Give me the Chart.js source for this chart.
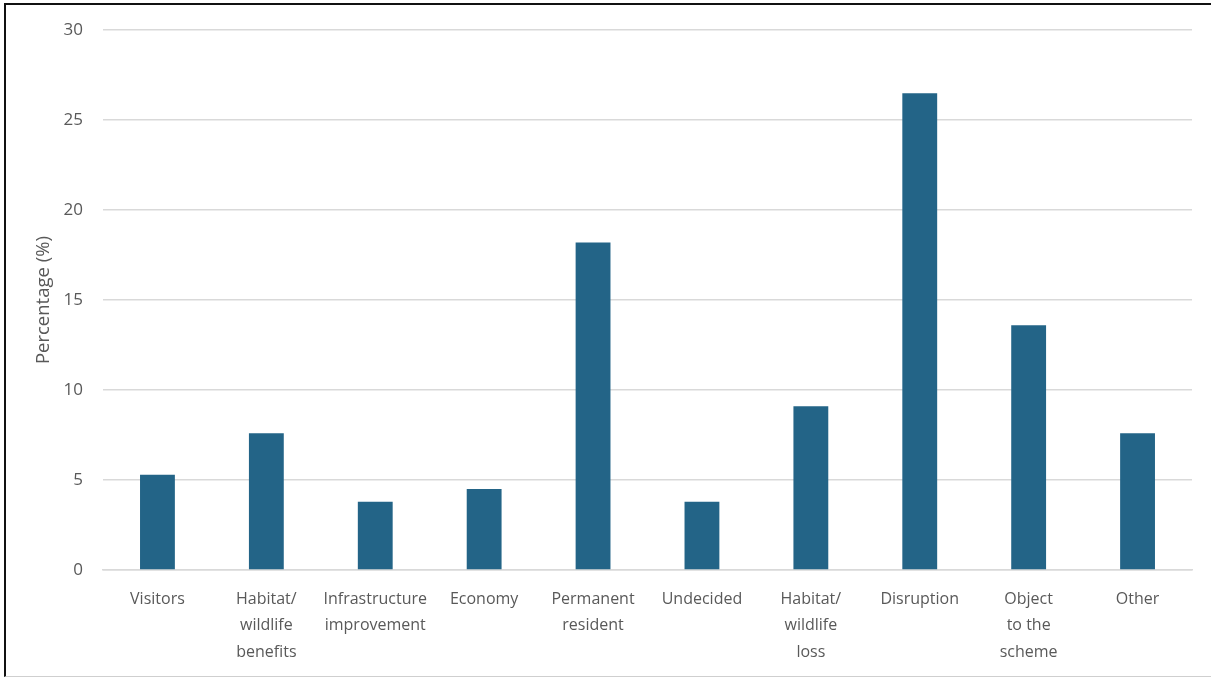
<!DOCTYPE html>
<html>
<head>
<meta charset="utf-8">
<script src="https://cdn.jsdelivr.net/npm/chart.js@4"></script>
<style>
  body { margin: 0; background: #fff; }
  #frame {
    position: absolute; left: 4px; top: 3px; width: 1210px; height: 671px;
    border-left: 2px solid #111; border-top: 2px solid #111; border-bottom: 1px solid #cfcfcf;
  }
  #myChart { position: absolute; left: 0; top: 0; }
</style>
</head>
<body>
<div id="frame"></div>
<canvas id="myChart" width="1211" height="677"></canvas>
<script>
const categories = [
  'Visitors',
  ['Habitat/', 'wildlife', 'benefits'],
  ['Infrastructure', 'improvement'],
  'Economy',
  ['Permanent', 'resident'],
  'Undecided',
  ['Habitat/', 'wildlife', 'loss'],
  'Disruption',
  ['Object', 'to the', 'scheme'],
  'Other'
];
const percentages = [5.3, 7.6, 3.8, 4.5, 18.2, 3.8, 9.1, 26.5, 13.6, 7.6];
const yTicks = [0, 5, 10, 15, 20, 25, 30];

const textColor = '#595959';
const fontFamily = "'Open Sans', 'Noto Sans', sans-serif";

// config
const config = {
  type: 'bar',
  data: {
    labels: categories,
    datasets: [{
      label: 'Percentage',
      data: percentages,
      backgroundColor: '#236487',
      borderWidth: 0,
      categoryPercentage: 1,
      barPercentage: 0.32
    }]
  },
  options: {
    responsive: false,
    animation: false,
    layout: {
      padding: { left: 6, right: 19, top: 29, bottom: 0 }
    },
    plugins: {
      legend: { display: false },
      tooltip: { enabled: false }
    },
    scales: {
      x: {
        grid: { display: false, drawTicks: false },
        border: { display: true, color: '#d9d9d9', width: 1.5 },
        ticks: {
          color: textColor,
          padding: 16,
          maxRotation: 0,
          autoSkip: false,
          font: { family: fontFamily, size: 16, lineHeight: 1.65 }
        },
        afterFit: function(scale) { scale.height = 107; }
      },
      y: {
        min: 0,
        max: 30,
        afterBuildTicks: function(scale) {
          scale.ticks = yTicks.map(v => ({ value: v }));
        },
        grid: { color: '#d9d9d9', lineWidth: 1.5, drawTicks: false },
        border: { display: false },
        ticks: {
          color: textColor,
          padding: 20,
          font: { family: fontFamily, size: 17 }
        },
        title: {
          display: true,
          text: 'Percentage (%)',
          color: textColor,
          padding: { top: 27, bottom: 0 },
          font: { family: fontFamily, size: 18.5 }
        },
        afterFit: function(scale) { scale.width = 97; }
      }
    }
  }
};

var myChart = document.getElementById('myChart').getContext('2d');
var theChart = new Chart(myChart, config);
</script>
</body>
</html>
